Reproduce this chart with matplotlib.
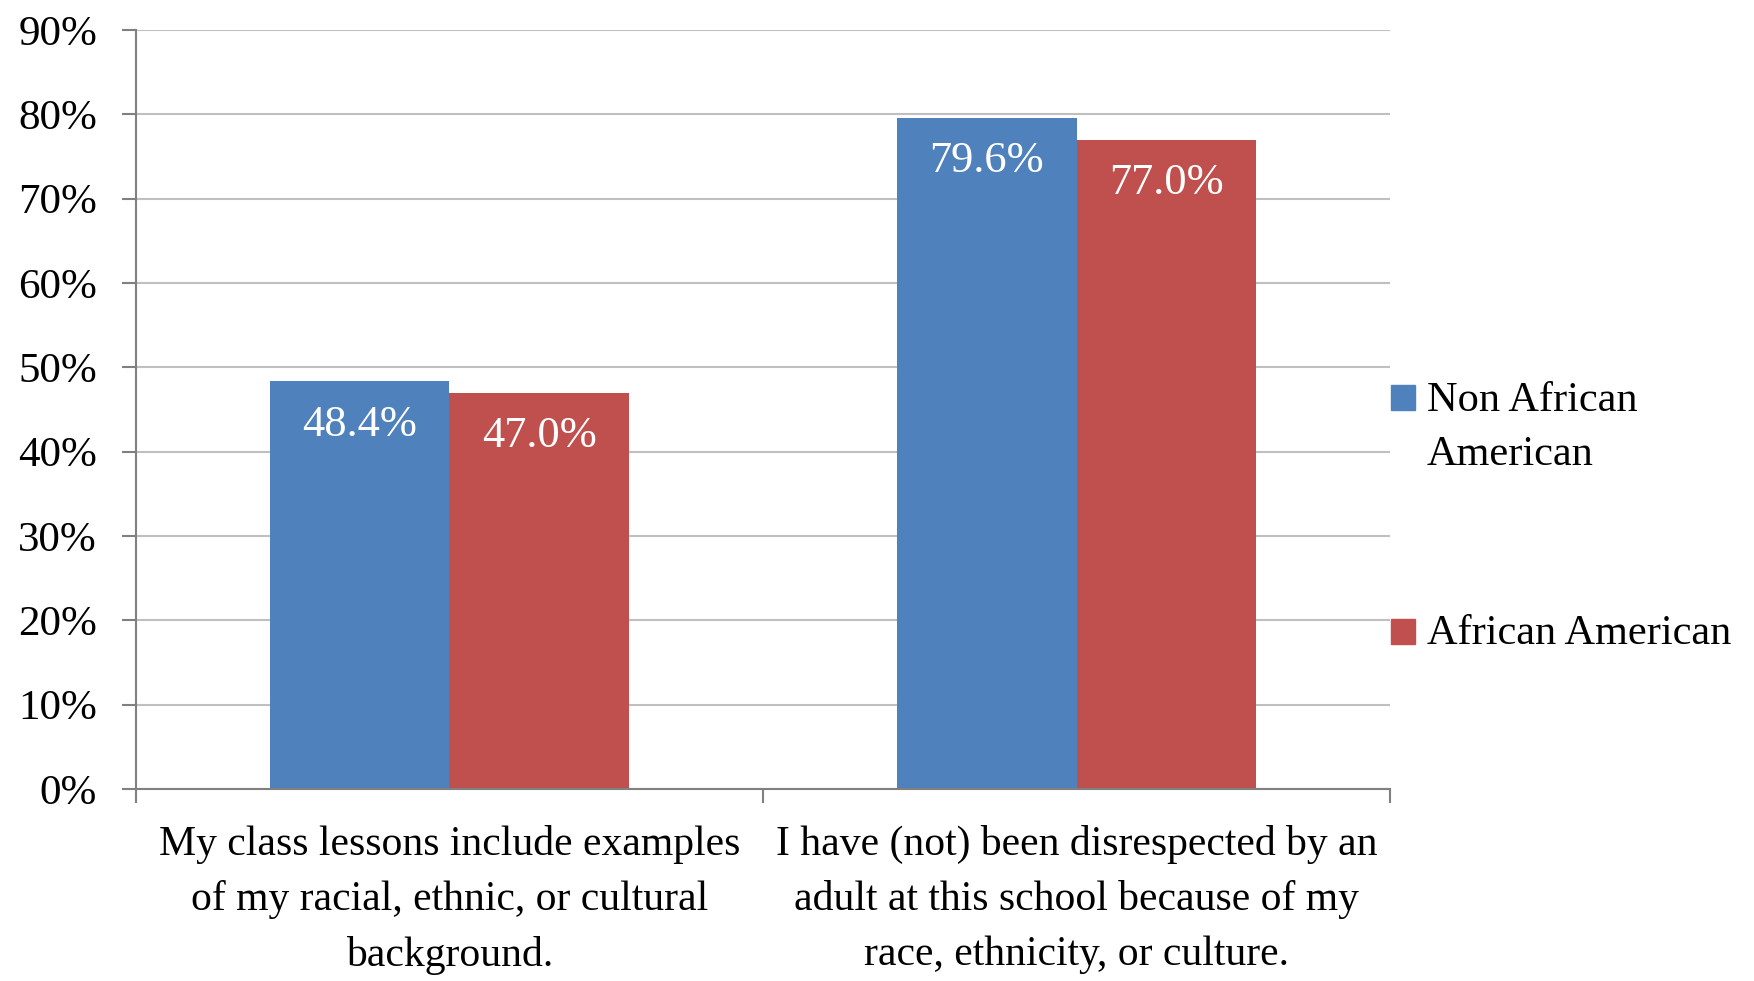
import numpy as np
import matplotlib.pyplot as plt
from matplotlib.patches import Rectangle

plt.rcParams['font.family'] = ['Liberation Serif', 'DejaVu Serif']

# chart data
categories = ['My class lessons include examples\nof my racial, ethnic, or cultural\nbackground.',
              'I have (not) been disrespected by an\nadult at this school because of my\nrace, ethnicity, or culture.']
series_names = ['Non African\nAmerican', 'African American']
non_african_american = [48.4, 79.6]
african_american = [47.0, 77.0]
colors = ['#4F81BD', '#C0504D']

fig = plt.figure(figsize=(17.54, 9.81), dpi=100)
ax = fig.add_axes([0.0775, 0.1957, 0.715, 0.7737])

x = np.arange(len(categories))
w = 0.2865
series = [non_african_american, african_american]
offsets = [-w / 2, w / 2]
for vals, off, col in zip(series, offsets, colors):
    bars = ax.bar(x + off, vals, width=w, color=col, zorder=2)
    for b, v in zip(bars, vals):
        ax.annotate(f'{v:.1f}%', (b.get_x() + b.get_width() / 2, v),
                    xytext=(0, -31.5), textcoords='offset points',
                    ha='center', va='center', color='white', fontsize=32)

ax.set_xlim(-0.5, len(categories) - 0.5)
ax.set_ylim(0, 90)
ax.set_yticks(np.arange(0, 91, 10))
ax.set_yticklabels([f'{t}%' for t in range(0, 91, 10)], fontsize=31)
ax.yaxis.grid(True, color='#BFBFBF', linewidth=1.5, zorder=0)
ax.set_axisbelow(True)

ax.set_xticks(x)
ax.set_xticklabels(categories, fontsize=30, linespacing=1.54)
ax.set_xticks(np.arange(-0.5, len(categories), 1.0), minor=True)
ax.tick_params(axis='x', which='major', length=0, pad=26)
ax.tick_params(axis='x', which='minor', length=10, width=1.5, color='#808080')
ax.tick_params(axis='y', length=10, width=1.5, color='#808080', pad=18)

for s in ['top', 'right']:
    ax.spines[s].set_visible(False)
for s in ['left', 'bottom']:
    ax.spines[s].set_color('#808080')
    ax.spines[s].set_linewidth(1.5)

# legend drawn by hand to match the original layout
leg_y = [0.582, 0.3435]
line_step = 0.056
for name, col, ly in zip(series_names, colors, leg_y):
    fig.add_artist(Rectangle((0.7930, ly), 0.0137, 0.0255, transform=fig.transFigure,
                             color=col))
    # baseline of a multi-line text is its last line, so shift down per extra line
    fig.text(0.8135, ly - line_step * name.count('\n'), name, fontsize=30.5,
             va='baseline', ha='left', linespacing=1.51)

fig.savefig('out.png', dpi=100)
